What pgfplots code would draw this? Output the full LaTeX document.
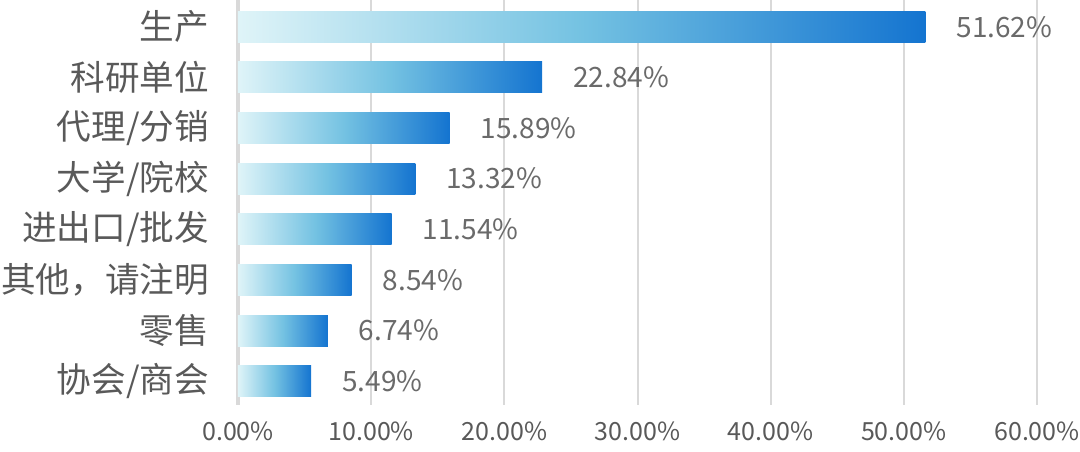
\documentclass[border=0pt]{standalone}
\usepackage{fontspec}
\setmainfont{Noto Sans CJK SC}
\usepackage{pgfplots}
\pgfplotsset{compat=1.18}
\definecolor{txt}{HTML}{595959}
\definecolor{lbl}{HTML}{6A6A6A}
\definecolor{gridc}{HTML}{D9D9D9}
\definecolor{cA}{HTML}{DFF4F8}
\definecolor{cB}{HTML}{74C2E2}
\definecolor{cC}{HTML}{1474D0}
\begin{document}
\begin{tikzpicture}
\begin{axis}[
 scale only axis, width=399.5pt, height=202.5pt,
 at={(0,0)}, anchor=south west,
 xmin=0, xmax=60, ymin=-0.53, ymax=7.47, y dir=reverse,
 xbar, bar width=15.5pt, bar shift=0pt,
 xtick={0,10,20,30,40,50,60},
 xticklabels={0.00\%,10.00\%,20.00\%,30.00\%,40.00\%,50.00\%,60.00\%},
 ytick={0,1,2,3,4,5,6,7},
 yticklabels={生产,科研单位,代理/分销,大学/院校,进出口/批发,其他，请注明,零售,协会/商会},
 xmajorgrids, grid style={gridc, line width=1pt},
 extra x ticks={0}, extra x tick labels={},
 extra x tick style={grid style={gridc, line width=1.6pt}},
 axis line style={draw=none}, major tick length=0pt,
 tick label style={text=txt},
 xticklabel style={font=\fontsize{12.5}{14}\selectfont, yshift=-5pt},
 yticklabel style={font=\fontsize{17.3}{20}\selectfont, xshift=-11pt},
 /pgf/number format/assume math mode=true,
 nodes near coords={\pgfmathprintnumber[fixed,zerofill,precision=2]{\pgfplotspointmeta}\%},
 point meta=x,
 every node near coord/.append style={text=lbl, font=\fontsize{14}{16}\selectfont, xshift=12pt},
 clip=false,
 barstyle/.style={draw=none, left color=cA, right color=cC, middle color=cB},
]
\addplot[barstyle] coordinates {(51.62,0)};
\addplot[barstyle] coordinates {(22.84,1)};
\addplot[barstyle] coordinates {(15.89,2)};
\addplot[barstyle] coordinates {(13.32,3)};
\addplot[barstyle] coordinates {(11.54,4)};
\addplot[barstyle] coordinates {(8.54,5)};
\addplot[barstyle] coordinates {(6.74,6)};
\addplot[barstyle] coordinates {(5.49,7)};
\end{axis}
\pgfresetboundingbox
\path (-119pt,-23pt) rectangle (421pt,202.5pt);
\end{tikzpicture}
\end{document}
